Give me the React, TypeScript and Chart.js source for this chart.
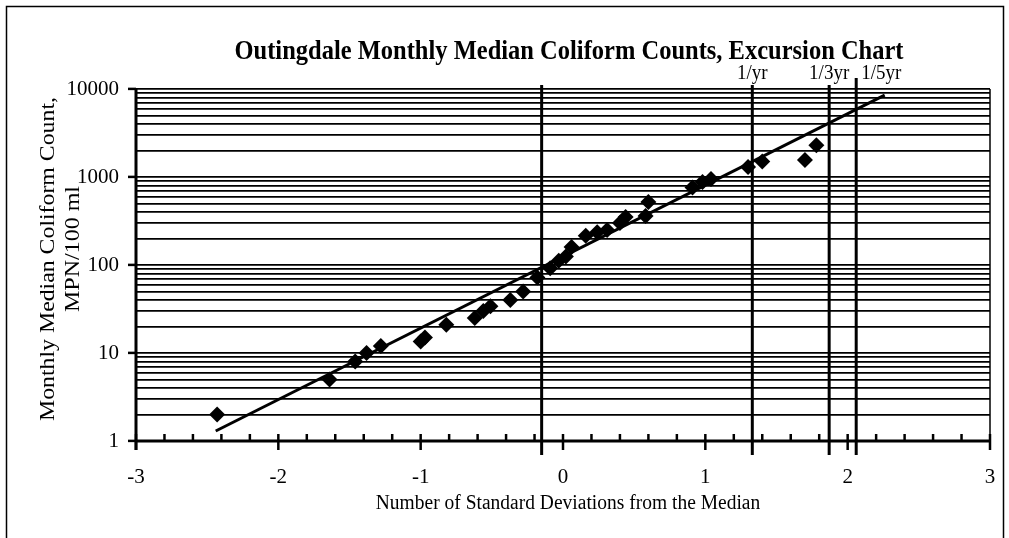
import React, { useEffect, useRef } from "react";
import { Chart, registerables } from "chart.js";

Chart.register(...registerables);

// ---------- data ----------
const TITLE = "Outingdale Monthly Median Coliform Counts, Excursion Chart";
const X_TITLE = "Number of Standard Deviations from the Median";
const Y_TITLE_1 = "Monthly Median Coliform Count,";
const Y_TITLE_2 = "MPN/100 ml";

const SD_VALUES = [
  -2.43, -1.64, -1.46, -1.38, -1.28, -1.0, -0.97, -0.82, -0.62, -0.56, -0.51,
  -0.37, -0.28, -0.18, -0.09, -0.03, 0.02, 0.06, 0.16, 0.24, 0.31, 0.4, 0.44,
  0.58, 0.6, 0.91, 0.98, 1.04, 1.3, 1.4, 1.7, 1.78,
];
const COUNT_VALUES = [
  2, 5, 8, 10, 12, 13.5, 15, 21, 25, 30, 34, 40, 50, 72, 92, 112, 125, 160, 215,
  235, 250, 300, 350, 360, 520, 760, 880, 950, 1300, 1500, 1560, 2300,
];

const FIT_X = [-2.44, 2.26];
const FIT_Y = [1.3, 8500];

const FREQ_LINE_X = [-0.15, 1.33, 1.87, 2.06];
const FREQ_LABELS = ["", "1/yr", "1/3yr", "1/5yr"];

const X_MIN = -3;
const X_MAX = 3;
const X_TICK_STEP = 0.2;
const X_LABELS = ["-3", "-2", "-1", "0", "1", "2", "3"];

const Y_MIN = 1;
const Y_MAX = 10000;
const Y_DECADES = [1, 10, 100, 1000];
const Y_MULTIPLIERS = [1, 2, 3, 4, 5, 6, 7, 8, 9];
const Y_LABELS = ["1", "10", "100", "1000", "10000"];

const FONT = "'Liberation Serif', 'Times New Roman', serif";

function isInteger(v: number) {
  return Math.abs(v - Math.round(v)) < 1e-6;
}

function stretchedText(
  ctx: CanvasRenderingContext2D,
  text: string,
  x: number,
  y: number,
  rotate: boolean,
  stretch: number
) {
  ctx.save();
  ctx.translate(x, y);
  if (rotate) {
    ctx.rotate(-Math.PI / 2);
    ctx.scale(stretch, 1);
  } else {
    ctx.scale(1, stretch);
  }
  ctx.fillText(text, 0, 0);
  ctx.restore();
}

const decorPlugin = {
  id: "decor",
  beforeDatasetsDraw(chart: any) {
    const { ctx, chartArea: a, scales } = chart;
    const xs = scales.x;
    const seg = (x1: number, y1: number, x2: number, y2: number) => {
      ctx.beginPath();
      ctx.moveTo(x1, y1);
      ctx.lineTo(x2, y2);
      ctx.stroke();
    };
    ctx.save();
    ctx.strokeStyle = "#000";
    ctx.lineWidth = 1.5;
    seg(a.right, a.top, a.right, a.bottom);
    // x tick marks
    xs.ticks.forEach((t: any) => {
      const px = xs.getPixelForValue(t.value);
      const major = isInteger(t.value);
      ctx.lineWidth = 2.5;
      seg(px, a.bottom - 7, px, major ? a.bottom + 9 : a.bottom);
    });
    // frequency lines
    ctx.lineWidth = 3;
    FREQ_LINE_X.forEach((v, i) => {
      const px = xs.getPixelForValue(v);
      seg(px, a.top - (i === 3 ? 11 : 4), px, a.bottom + 14);
    });
    // axes
    ctx.lineWidth = 3;
    seg(a.left, a.top - 1, a.left, a.bottom + 9);
    seg(a.left - 1, a.bottom, a.right + 1, a.bottom);
    ctx.restore();
  },
  afterDraw(chart: any) {
    const { ctx, chartArea: a, scales } = chart;
    const xs = scales.x;
    ctx.save();
    ctx.fillStyle = "#000";
    ctx.strokeStyle = "#000";
    // outer border
    ctx.lineWidth = 1.5;
    ctx.beginPath();
    ctx.moveTo(6.5, 545);
    ctx.lineTo(6.5, 6.5);
    ctx.lineTo(1003.5, 6.5);
    ctx.lineTo(1003.5, 545);
    ctx.stroke();
    // title
    ctx.font = `bold 24.5px ${FONT}`;
    ctx.textAlign = "center";
    ctx.textBaseline = "middle";
    stretchedText(ctx, TITLE, 569, 52, false, 1.12);
    // x title
    ctx.font = `19.5px ${FONT}`;
    stretchedText(ctx, X_TITLE, 568, 503, false, 1.12);
    // frequency labels
    ctx.font = `19px ${FONT}`;
    FREQ_LABELS.forEach((lab, i) => {
      if (!lab) return;
      const px = xs.getPixelForValue(FREQ_LINE_X[i]);
      if (i === 3) {
        ctx.textAlign = "left";
        stretchedText(ctx, lab, px + 5, 74, false, 1.1);
      } else {
        ctx.textAlign = "center";
        stretchedText(ctx, lab, px, 74, false, 1.1);
      }
    });
    // y titles
    ctx.textAlign = "center";
    ctx.font = `20px ${FONT}`;
    stretchedText(ctx, Y_TITLE_1, 49, 259, true, 1.19);
    stretchedText(ctx, Y_TITLE_2, 74, 249, true, 1.2);
    ctx.restore();
  },
};

export default function App() {
  const ref = useRef<HTMLCanvasElement | null>(null);

  useEffect(() => {
    if (!ref.current) return;
    const points = SD_VALUES.map((x, i) => ({ x, y: COUNT_VALUES[i] }));
    const fit = FIT_X.map((x, i) => ({ x, y: FIT_Y[i] }));
    const chart = new Chart(ref.current, {
      type: "scatter",
      data: {
        datasets: [
          {
            type: "line",
            label: "fit",
            data: fit,
            borderColor: "#000",
            borderWidth: 3,
            pointRadius: 0,
            showLine: true,
            fill: false,
          } as any,
          {
            label: "Monthly median",
            data: points,
            pointStyle: "rectRot",
            pointRadius: 8,
            backgroundColor: "#000",
            borderColor: "#000",
            borderWidth: 0,
          },
        ],
      },
      options: {
        responsive: false,
        animation: false,
        events: [],
        layout: { padding: { left: 0, right: 19, top: 89, bottom: 37 } },
        plugins: {
          legend: { display: false },
          title: { display: false },
          tooltip: { enabled: false },
        },
        scales: {
          x: {
            type: "linear",
            min: X_MIN,
            max: X_MAX,
            afterBuildTicks: (scale: any) => {
              const ticks: any[] = [];
              const n = Math.round((X_MAX - X_MIN) / X_TICK_STEP);
              for (let i = 0; i <= n; i++) {
                ticks.push({ value: Math.round((X_MIN + i * X_TICK_STEP) * 10) / 10 });
              }
              scale.ticks = ticks;
            },
            afterFit: (scale: any) => {
              scale.height = 60;
            },
            grid: { display: false, drawTicks: true, tickLength: 22 },
            border: { display: false },
            ticks: {
              autoSkip: false,
              maxRotation: 0,
              padding: 2,
              color: "#000",
              font: { family: FONT, size: 21 },
              callback: (v: any) => {
                const s = String(Math.round(Number(v)));
                return isInteger(Number(v)) && X_LABELS.includes(s) ? s : "";
              },
            },
          },
          y: {
            type: "logarithmic",
            min: Y_MIN,
            max: Y_MAX,
            afterBuildTicks: (scale: any) => {
              const ticks: any[] = [];
              Y_DECADES.forEach((d) =>
                Y_MULTIPLIERS.forEach((m) => ticks.push({ value: d * m }))
              );
              ticks.push({ value: Y_MAX });
              scale.ticks = ticks;
            },
            afterFit: (scale: any) => {
              scale.width = 136;
            },
            border: { display: false },
            grid: {
              color: "#000",
              lineWidth: 1.8,
              drawTicks: true,
              tickLength: 8,
              tickWidth: 2.5,
              tickColor: (c: any) =>
                c.tick && Y_LABELS.includes(String(c.tick.value)) ? "#000" : "rgba(0,0,0,0)",
            },
            ticks: {
              autoSkip: false,
              padding: 9,
              color: "#000",
              font: { family: FONT, size: 21 },
              callback: (v: any) => (Y_LABELS.includes(String(v)) ? String(v) : ""),
            },
          },
        },
      },
      plugins: [decorPlugin],
    });
    return () => chart.destroy();
  }, []);

  return (
    <div
      style={{
        position: "fixed",
        left: 0,
        top: 0,
        width: 1009,
        height: 538,
        background: "#fff",
      }}
    >
      <canvas ref={ref} width={1009} height={538} style={{ display: "block" }} />
    </div>
  );
}
